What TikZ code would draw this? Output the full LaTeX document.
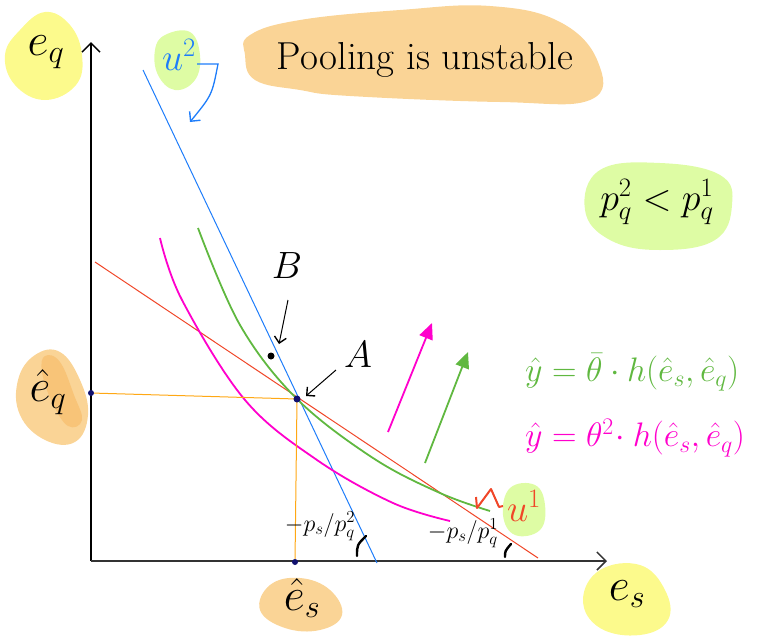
\RequirePackage{fix-cm}
\documentclass[tikz,border=0pt]{standalone}
\usepackage{fontspec}
\usetikzlibrary{arrows.meta}
\definecolor{blobyellow}{RGB}{252,250,140}
\definecolor{bloborange}{RGB}{250,212,150}
\definecolor{bloborangedk}{RGB}{248,196,120}
\definecolor{blobgreen}{RGB}{222,252,164}
\definecolor{lineblue}{RGB}{30,125,250}
\definecolor{linered}{RGB}{240,70,40}
\definecolor{linegreen}{RGB}{96,184,64}
\definecolor{linemag}{RGB}{255,0,204}
\definecolor{lineorange}{RGB}{255,168,20}
\definecolor{dotnavy}{RGB}{16,16,110}
\begin{document}
\begin{tikzpicture}[x=1pt,y=-1pt,
  axis/.style={line width=1.1pt,-{Straight Barb[length=9pt,width=18pt,line width=1.5pt]}},
  blob/.style={smooth cycle,tension=0.7},
  axtxt/.style={font=\fontsize{46}{50}\selectfont,inner sep=1pt},
  bigtxt/.style={font=\fontsize{38}{42}\selectfont,inner sep=1pt},
  titletxt/.style={font=\fontsize{39}{44}\selectfont,inner sep=1pt},
  eqtxt/.style={font=\fontsize{34}{38}\selectfont,inner sep=1pt},
  slopetxt/.style={font=\fontsize{24}{28}\selectfont,inner sep=1pt},
  navydot/.style={circle,fill=dotnavy,inner sep=0pt,minimum size=6pt},
  pointer/.style={line width=1pt,-{Straight Barb[length=6pt,width=12pt,line width=1.4pt]}},
  upar/.style={line width=1.8pt,-{Triangle[length=16pt,width=14pt]}},
  tick/.style={line width=2.4pt,line cap=round}]
\useasboundingbox (0,0) rectangle (758,643);
% blobs
\fill[blobyellow] plot[blob] coordinates {(20,30) (45,12) (70,25) (82,55) (76,85) (45,100) (15,85) (5,55)};
\fill[blobgreen] plot[blob] coordinates {(165,35) (190,32) (200,55) (195,80) (175,90) (158,75) (155,50)};
\fill[bloborange] plot[blob] coordinates {(250,35) (300,20) (400,10) (490,6) (560,22) (598,62) (590,100) (500,102) (350,96) (300,90) (255,80) (245,55)};
\fill[blobgreen] plot[blob] coordinates {(600,170) (660,163) (720,175) (732,205) (715,240) (660,250) (610,240) (585,210)};
\fill[bloborange] plot[blob] coordinates {(35,355) (60,352) (80,380) (88,415) (75,442) (45,440) (20,415) (18,380)};
\fill[bloborangedk] plot[blob] coordinates {(45,356) (60,362) (74,395) (82,420) (68,426) (52,402) (42,372)};
\fill[bloborange] plot[blob] coordinates {(270,585) (300,578) (330,590) (342,615) (320,630) (285,628) (260,610)};
\fill[blobyellow] plot[blob] coordinates {(600,570) (640,565) (665,590) (668,620) (640,635) (600,628) (583,600)};
\fill[blobgreen] plot[blob] coordinates {(510,488) (535,485) (545,505) (540,530) (515,535) (503,515)};
% axes
\coordinate (O) at (91,561);
\coordinate (ytop) at (91,42);
\coordinate (xend) at (607,561);
\draw[axis,black] (O) -- (ytop);
\draw[axis,black!80] (O) -- (xend);
% lines and curves
\coordinate (A) at (297,399);
\coordinate (bl1) at (143,70);
\coordinate (bl2) at (377,563);
\coordinate (rd1) at (95,262);
\coordinate (rd2) at (538,558);
\draw[lineblue,line width=1pt] (bl1) -- (bl2);
\draw[linered,line width=1pt] (rd1) -- (rd2);
\draw[linegreen,line width=1.8pt] plot[smooth,tension=0.6] coordinates {(198,228) (240,325) (297,399) (373,458) (440,493) (490,511)};
\draw[linemag,line width=1.8pt] plot[smooth,tension=0.6] coordinates {(160,238) (182,300) (245,400) (317,460) (393,503) (450,521)};
% orange guide lines and dots
\node[navydot] (eqdot) at (91,393) {};
\node[navydot] (esdot) at (295,562) {};
\draw[lineorange,line width=1pt] (eqdot) -- (A) -- (esdot);
\node[navydot,minimum size=7pt] (Adot) at (A) {};
\node[circle,fill=black,inner sep=0pt,minimum size=7pt] (Bdot) at (271,356) {};
% labels
\node[axtxt] (eq) at (46,52) {$e_q$};
\node[bigtxt,text=lineblue] (u2) at (179,55) {$u^2$};
\coordinate (u2a) at (218,64);
\coordinate (u2b) at (190,122);
\draw[lineblue,line width=1.3pt,-{Straight Barb[length=7pt,width=14pt,line width=1.4pt]}] (u2.east |- u2a) -- (u2a) .. controls (212,95) .. (u2b);
\node[titletxt] (title) at (425,60) {Pooling is unstable};
\node[bigtxt] (pineq) at (657,202) {$p_q^2<p_q^1$};
\node[axtxt] (eqhat) at (48,392) {$\hat e_q$};
\node[axtxt] (eshat) at (302,598) {$\hat e_s$};
\node[axtxt] (es) at (627,594) {$e_s$};
\node[bigtxt] (Blab) at (287,266) {$B$};
\node[bigtxt] (Alab) at (358,355) {$A$};
\coordinate (Bstart) at (288,300);
\draw[pointer] (Bstart) -- (279,344);
\coordinate (Astart) at (336,370);
\draw[pointer] (Astart) -- (306,396);
% shift arrows
\coordinate (m1) at (388,432);
\coordinate (m2) at (432,323);
\coordinate (g1) at (425,463);
\coordinate (g2) at (468,352);
\draw[upar,linemag] (m1) -- (m2);
\draw[upar,linegreen] (g1) -- (g2);
% equations
\node[eqtxt,text=linegreen,anchor=west] (eqg) at (524,372) {$\hat y=\bar\theta\cdot h(\hat e_s,\hat e_q)$};
\node[eqtxt,text=linemag,anchor=west] (eqm) at (524,438) {$\hat y=\theta^2\!\cdot h(\hat e_s,\hat e_q)$};
% slope labels
\node[slopetxt] (s2) at (320,526) {$-p_s/p_q^2$};
\node[slopetxt] (s1) at (463,533) {$-p_s/p_q^1$};
\draw[tick] (357,556) .. controls (357,545) .. (366,536);
\draw[tick] (505,557) .. controls (505,551) .. (511,544);
% u1
\draw[linered,line width=2pt,line join=round] (476,497) -- (477,508) -- (491,489) -- (499,507) -- (503,506);
\node[bigtxt,text=linered] (u1) at (524,506) {$u^1$};
\end{tikzpicture}
\end{document}
